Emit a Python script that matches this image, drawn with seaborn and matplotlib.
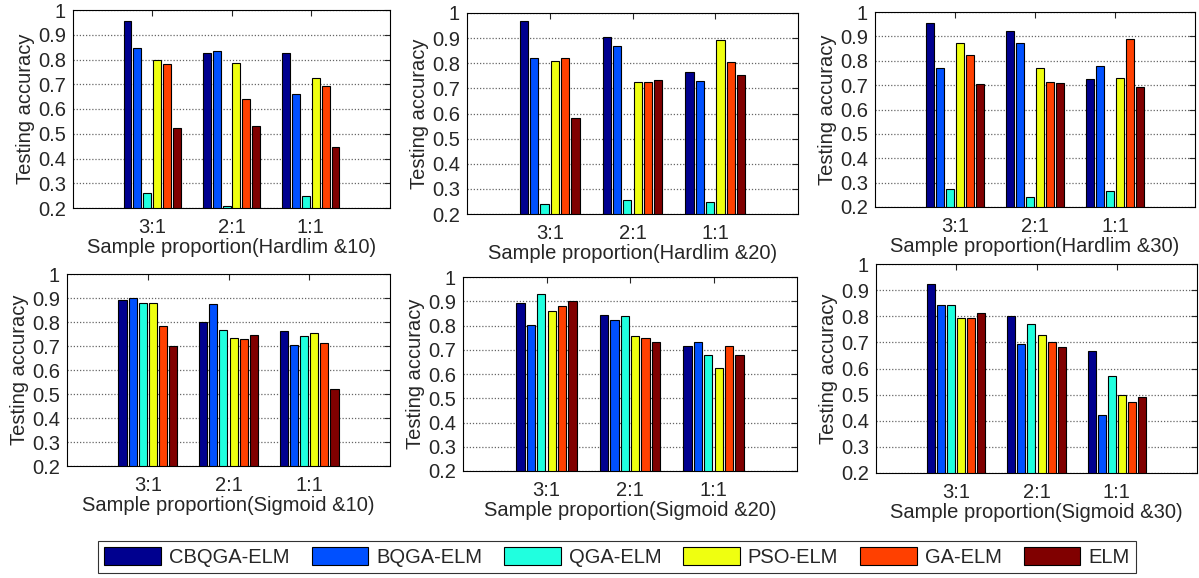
import pandas as pd
import seaborn as sns
import matplotlib.pyplot as plt
from matplotlib.patches import Patch

# methods and jet-like palette (matlab default bar colours)
methods = ['CBQGA-ELM', 'BQGA-ELM', 'QGA-ELM', 'PSO-ELM', 'GA-ELM', 'ELM']
proportions = ['3:1', '2:1', '1:1']
jet_pal = ['#00008F', '#0050FF', '#20FFDF', '#EFFF10', '#FF4000', '#800000']
yticks = [0.2, 0.3, 0.4, 0.5, 0.6, 0.7, 0.8, 0.9, 1.0]
ytick_labels = ['0.2', '0.3', '0.4', '0.5', '0.6', '0.7', '0.8', '0.9', '1']

# testing accuracy, one row per method, columns = 3:1, 2:1, 1:1
hardlim_10 = [[0.955, 0.825, 0.825],
              [0.845, 0.835, 0.660],
              [0.260, 0.210, 0.250],
              [0.800, 0.787, 0.724],
              [0.782, 0.640, 0.693],
              [0.525, 0.530, 0.445]]
hardlim_20 = [[0.967, 0.903, 0.767],
              [0.820, 0.870, 0.730],
              [0.241, 0.256, 0.246],
              [0.807, 0.725, 0.892],
              [0.820, 0.725, 0.805],
              [0.583, 0.732, 0.752]]
hardlim_30 = [[0.953, 0.922, 0.724],
              [0.772, 0.872, 0.778],
              [0.275, 0.240, 0.265],
              [0.872, 0.772, 0.730],
              [0.825, 0.713, 0.888],
              [0.703, 0.708, 0.694]]
sigmoid_10 = [[0.892, 0.802, 0.762],
              [0.902, 0.876, 0.703],
              [0.881, 0.768, 0.740],
              [0.881, 0.735, 0.756],
              [0.785, 0.731, 0.713],
              [0.702, 0.745, 0.520]]
sigmoid_20 = [[0.892, 0.845, 0.716],
              [0.802, 0.823, 0.733],
              [0.930, 0.838, 0.680],
              [0.860, 0.757, 0.626],
              [0.882, 0.747, 0.716],
              [0.903, 0.733, 0.680]]
sigmoid_30 = [[0.922, 0.802, 0.668],
              [0.842, 0.695, 0.421],
              [0.842, 0.772, 0.570],
              [0.792, 0.728, 0.500],
              [0.792, 0.703, 0.470],
              [0.812, 0.682, 0.492]]

panels = [(hardlim_10, 'Sample proportion(Hardlim &10)', (73, 208, 317, 198)),
          (hardlim_20, 'Sample proportion(Hardlim &20)', (467, 214, 331, 201)),
          (hardlim_30, 'Sample proportion(Hardlim &30)', (875, 207, 320, 195)),
          (sigmoid_10, 'Sample proportion(Sigmoid &10)', (67, 466, 323, 192)),
          (sigmoid_20, 'Sample proportion(Sigmoid &20)', (463, 471, 334, 194)),
          (sigmoid_30, 'Sample proportion(Sigmoid &30)', (876, 473, 321, 209))]

sns.set_style('white')
plt.rcParams['font.family'] = ['Liberation Sans', 'DejaVu Sans']
plt.rcParams['font.size'] = 14.5

W, H = 1199, 578
fig = plt.figure(figsize=(W / 100, H / 100), dpi=100)

def to_frame(vals):
    rows = []
    for m, row in zip(methods, vals):
        for p, v in zip(proportions, row):
            rows.append({'method': m, 'proportion': p, 'accuracy': v})
    return pd.DataFrame(rows)

for vals, xlabel, (x, yb, w, h) in panels:
    ax = fig.add_axes([x / W, 1 - yb / H, w / W, h / H])
    df = to_frame(vals)
    sns.barplot(data=df, x='proportion', y='accuracy', hue='method',
                order=proportions, hue_order=methods, palette=jet_pal,
                saturation=1, width=0.75, gap=0.2, edgecolor='black',
                linewidth=0.8, legend=False, ax=ax)
    ax.set_xlim(-1, 3)
    ax.set_ylim(0.2, 1.0)
    ax.set_yticks(yticks)
    ax.set_yticklabels(ytick_labels)
    ax.set_axisbelow(True)
    ax.yaxis.grid(True, linestyle=(0, (1, 1.5)), color='#666666', linewidth=0.9)
    ax.xaxis.grid(False)
    ax.tick_params(direction='in', top=True, right=True, length=4,
                   width=0.8, labelsize=14.5)
    ax.tick_params(axis='x', pad=7)
    ax.tick_params(axis='y', pad=5)
    for s in ax.spines.values():
        s.set_visible(True)
        s.set_color('black')
        s.set_linewidth(0.8)
    ax.set_xlabel(xlabel, fontsize=14.5, labelpad=1)
    ax.set_ylabel('Testing accuracy', fontsize=14.5, labelpad=2)

handles = [Patch(facecolor=c, edgecolor='black', linewidth=0.8) for c in jet_pal]
leg = fig.legend(handles, methods, loc='center', bbox_to_anchor=(617 / W, 1 - 557 / H),
                 ncol=6, frameon=True, fancybox=False, edgecolor='black',
                 fontsize=14.5, handlelength=2.8, handleheight=1.0,
                 handletextpad=0.4, columnspacing=1.1, borderpad=0.3)
leg.get_frame().set_linewidth(0.8)

fig.savefig('out.png', dpi=100)
